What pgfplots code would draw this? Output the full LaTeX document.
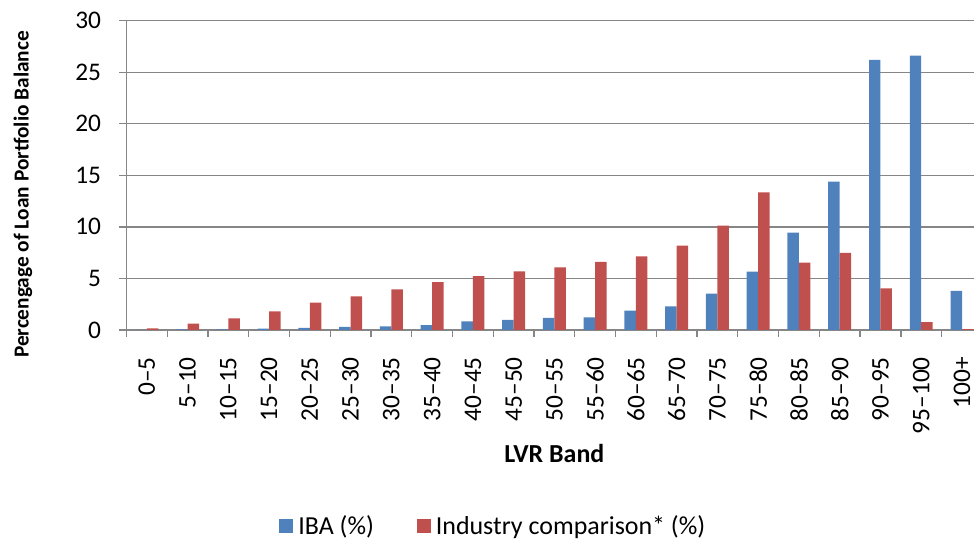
\documentclass[border=0pt]{standalone}
\usepackage{pgfplots}
\pgfplotsset{compat=1.18}
\usepackage{pgfplotstable}
\usepackage{fontspec}
\setmainfont{Carlito}
\definecolor{ibablue}{HTML}{4F81BD}
\definecolor{indred}{HTML}{C0504D}
\definecolor{gridgray}{HTML}{868686}

\pgfplotstableread{
x iba ind
0 0 0.16
1 0.06 0.61
2 0.06 1.13
3 0.13 1.80
4 0.19 2.65
5 0.29 3.26
6 0.35 3.94
7 0.48 4.65
8 0.84 5.23
9 0.97 5.68
10 1.16 6.06
11 1.23 6.60
12 1.87 7.13
13 2.29 8.19
14 3.52 10.13
15 5.65 13.35
16 9.45 6.52
17 14.39 7.48
18 26.2 4.03
19 26.6 0.77
20 3.8 0.08
}\lvrdata

\begin{document}
\begin{tikzpicture}
\begin{axis}[
  scale only axis,
  width=428.95pt, height=155pt,
  ybar=0pt, bar width=5.75pt,
  xmin=-0.5, xmax=20.5,
  ymin=0, ymax=30,
  ytick={0,5,...,30},
  xtick={0,...,20},
  xticklabels={0–5,5–10,10–15,15–20,20–25,25–30,30–35,35–40,40–45,45–50,50–55,55–60,60–65,65–70,70–75,75–80,80–85,85–90,90–95,95–100,100+},
  minor xtick={-0.5,0.5,...,20.5},
  axis lines=left,
  axis line style={gridgray, line width=0.65pt, -},
  ymajorgrids,
  grid style={gridgray, line width=0.65pt},
  tick align=outside,
  major tick length=3.5pt,
  minor tick length=3.5pt,
  tick style={gridgray, line width=0.65pt},
  major x tick style={draw=none},
  /pgf/number format/assume math mode=true,
  tick label style={font=\fontsize{12.7}{15}\selectfont},
  xticklabel style={rotate=90, anchor=east, inner sep=0pt},
  yticklabel style={inner sep=0pt},
  xticklabel shift=10pt,
  yticklabel shift=9pt,
  xlabel={LVR Band},
  xlabel style={at={(axis description cs:0.5,-0.398)}, anchor=center, font=\bfseries\fontsize{13}{15}\selectfont},
  ylabel={Percengage of Loan Portfolio Balance},
  ylabel style={at={(axis description cs:-0.1209,0.438)}, anchor=center, rotate=0, font=\bfseries\fontsize{10.7}{13}\selectfont},
  legend style={at={(0.4305,-0.635)}, anchor=center, draw=none, fill=none,
    legend columns=2, font=\fontsize{13}{15}\selectfont,
    /tikz/every even column/.append style={column sep=19pt},
    nodes={inner sep=2.5pt}},
  legend cell align=left,
  legend image code/.code={\path[#1,draw=none] (0pt,-3.5pt) rectangle (7pt,3.5pt);},
]
\addplot[fill=ibablue, draw=none] table[x=x, y=iba] {\lvrdata};
\addplot[fill=indred, draw=none] table[x=x, y=ind] {\lvrdata};
\legend{IBA (\%), Industry comparison* (\%)}
\coordinate (sw) at (rel axis cs:0,0);
\coordinate (ne) at (rel axis cs:1,1);
\end{axis}
\pgfresetboundingbox
\path ([shift={(-63.35pt,-104.65pt)}]sw) rectangle ([shift={(-4.2pt,10.35pt)}]ne);
\end{tikzpicture}
\end{document}
